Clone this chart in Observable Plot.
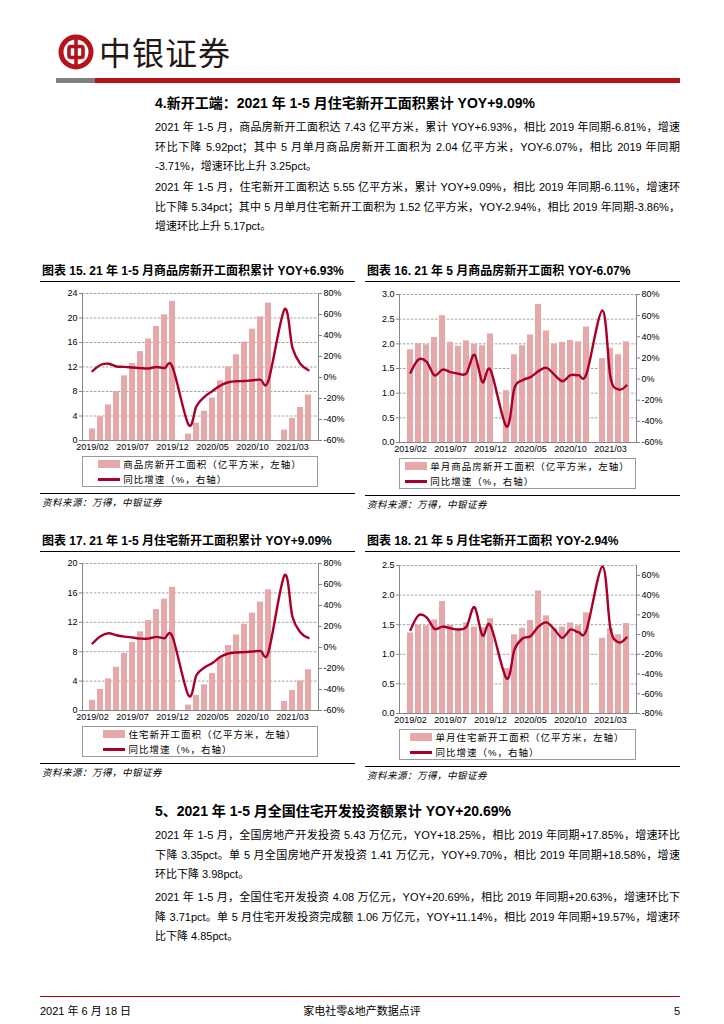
<!DOCTYPE html>
<html><head><meta charset="utf-8">
<script src="https://cdn.jsdelivr.net/npm/d3@7"></script>
<script src="https://cdn.jsdelivr.net/npm/@observablehq/plot@0.6"></script>
<style>
body{margin:0;background:#fff;}
#page{position:relative;width:724px;height:1024px;overflow:hidden;font-family:"Liberation Sans","Noto Sans CJK SC",sans-serif;color:#000;}
.abs{position:absolute;}
.h2{font-weight:bold;font-size:14px;white-space:nowrap;line-height:20px;}
.pl{left:155px;width:525px;font-size:11px;white-space:nowrap;line-height:20px;height:20px;text-align:justify;text-align-last:justify;}
.pl.last{text-align-last:left;}
.ctitle{font-weight:bold;font-size:12px;white-space:nowrap;line-height:18px;height:19px;border-bottom:1px solid #000;padding-left:2px;}
.legend{border:1px solid #9a9a9a;box-sizing:border-box;display:flex;justify-content:center;align-items:center;font-size:9.5px;letter-spacing:1px;}
.legend .inner{display:flex;flex-direction:column;gap:4px;}
.legend .row{display:flex;align-items:center;white-space:nowrap;line-height:11px;}
.sw{display:inline-block;width:22px;margin-right:3px;}
.sw.bar{height:8px;background:#E6A8A8;}
.sw.ln{height:3px;background:#A8002B;}
.src{font-size:9.5px;font-style:italic;white-space:nowrap;line-height:12px;letter-spacing:0.5px;}
</style>
</head><body>
<div id="page"></div>
<script>
// ---------------- data ----------------
const months = ["2019/02","2019/03","2019/04","2019/05","2019/06","2019/07","2019/08","2019/09","2019/10","2019/11","2019/12",
  "2020/01","2020/02","2020/03","2020/04","2020/05","2020/06","2020/07","2020/08","2020/09","2020/10","2020/11","2020/12",
  "2021/01","2021/02","2021/03","2021/04","2021/05"];
const tickMonths = ["2019/02","2019/07","2019/12","2020/05","2020/10","2021/03"];

// 图表15 商品房新开工面积累计（亿平方米）与同比（%）
const c15Area = [1.88,3.87,5.81,7.97,10.55,12.58,14.51,16.57,18.62,20.52,22.72,null,1.04,2.82,4.78,6.95,9.75,12.01,14.00,16.06,18.18,20.18,22.44,null,1.71,3.62,5.39,7.43];
const c15Yoy  = [6.0,11.9,13.1,10.5,10.1,9.5,8.9,8.6,10.0,9.0,10.0,null,-44.9,-27.2,-18.4,-12.8,-7.6,-4.5,-3.6,-3.4,-2.6,-2.0,-2.8,null,64.9,28.2,12.8,6.93];
// 图表16 单月商品房新开工面积
const c16Area = [1.88,2.00,1.98,2.13,2.57,2.03,1.95,2.06,1.99,1.96,2.20,null,1.05,1.78,1.96,2.18,2.80,2.26,1.99,2.03,2.07,2.04,2.34,null,1.70,1.91,1.78,2.04];
const c16Yoy  = [6.0,18.5,16.5,3.5,9.0,6.5,5.0,5.5,23.0,-3.0,8.5,null,-44.9,-8.3,-1.0,1.8,7.5,10.6,4.0,-2.0,3.7,3.7,5.0,null,64.9,1.8,-9.8,-6.07];
// 图表17 住宅新开工面积累计
const c17Area = [1.38,2.85,4.31,5.88,7.77,9.27,10.70,12.23,13.73,15.15,16.75,null,0.74,2.05,3.49,5.02,7.17,8.83,10.27,11.74,13.25,14.75,16.43,null,1.24,2.71,4.02,5.55];
const c17Yoy  = [3.8,10.7,13.6,11.7,10.4,9.5,8.5,8.5,10.1,8.8,10.1,null,-45.7,-26.2,-19.0,-14.8,-8.8,-5.7,-4.7,-4.4,-3.8,-3.2,-4.1,null,68.8,29.0,14.2,9.09];
// 图表18 单月住宅新开工面积
const c18Area = [1.36,1.49,1.48,1.58,1.89,1.49,1.43,1.53,1.46,1.45,1.60,null,0.76,1.33,1.44,1.57,2.07,1.65,1.44,1.46,1.53,1.48,1.70,null,1.27,1.43,1.33,1.52];
const c18Yoy  = [4.7,19.5,17.5,5.8,8.1,6.4,5.1,8.0,27.8,-1.0,9.2,null,-44.4,-15.0,-4.0,-1.7,8.1,12.3,5.1,-3.4,5.1,2.4,4.7,null,69.0,5.8,-7.8,-2.94];

const page = document.getElementById("page");
function el(tag, cls, style, html){const e=document.createElement(tag); if(cls) e.className=cls; if(style) Object.assign(e.style, style); if(html!=null) e.innerHTML=html; page.appendChild(e); return e;}

// ---------------- header ----------------
el("div","abs",{left:"58px",top:"34px",width:"36px",height:"36px"},
 `<svg width="36" height="36" viewBox="0 0 36 36"><circle cx="18" cy="18" r="15" fill="none" stroke="#B5121B" stroke-width="5"/>
  <rect x="11" y="12.5" width="14" height="11" rx="2" fill="none" stroke="#B5121B" stroke-width="3.6"/>
  <rect x="16.2" y="2" width="3.6" height="32" fill="#B5121B"/></svg>`);
el("div","abs",{left:"99px",top:"29px",fontSize:"32px",lineHeight:"44px",fontFamily:"'Noto Sans CJK SC',sans-serif",color:"#231815",letterSpacing:"1px"},"中银证券");
el("div","abs",{left:"56px",top:"78px",width:"39px",height:"5px",background:"#7f7f7f"});
el("div","abs",{left:"95px",top:"78px",width:"585px",height:"5px",background:"#B5121B"});

// ---------------- text ----------------
el("div","abs h2",{left:"155px",top:"93px"},"4.新开工端：2021 年 1-5 月住宅新开工面积累计 YOY+9.09%");
const lines1 = [
 [127,"2021 年 1-5 月，商品房新开工面积达 7.43 亿平方米，累计 YOY+6.93%，相比 2019 年同期-6.81%，增速",false],
 [146.5,"环比下降 5.92pct；其中 5 月单月商品房新开工面积为 2.04 亿平方米，YOY-6.07%，相比 2019 年同期",false],
 [166,"-3.71%，增速环比上升 3.25pct。",true],
 [187,"2021 年 1-5 月，住宅新开工面积达 5.55 亿平方米，累计 YOY+9.09%，相比 2019 年同期-6.11%，增速环",false],
 [206.5,"比下降 5.34pct；其中 5 月单月住宅新开工面积为 1.52 亿平方米，YOY-2.94%，相比 2019 年同期-3.86%，",false],
 [226,"增速环比上升 5.17pct。",true],
 [835,"2021 年 1-5 月，全国房地产开发投资 5.43 万亿元，YOY+18.25%，相比 2019 年同期+17.85%，增速环比",false],
 [854.5,"下降 3.35pct。单 5 月全国房地产开发投资 1.41 万亿元，YOY+9.70%，相比 2019 年同期+18.58%，增速",false],
 [874,"环比下降 3.98pct。",true],
 [897,"2021 年 1-5 月，全国住宅开发投资 4.08 万亿元，YOY+20.69%，相比 2019 年同期+20.63%，增速环比下",false],
 [916.5,"降 3.71pct。单 5 月住宅开发投资完成额 1.06 万亿元，YOY+11.14%，相比 2019 年同期+19.57%，增速环",false],
 [936,"比下降 4.85pct。",true]
];
for (const [y,t,last] of lines1) {
  el("div","abs pl"+(last?" last":""),{top:(y-10)+"px"},t);
}
el("div","abs h2",{left:"155px",top:"801px"},"5、2021 年 1-5 月全国住宅开发投资额累计 YOY+20.69%");

// footer
el("div","abs",{left:"40px",top:"996px",width:"640px",height:"1px",background:"#C00000"});
el("div","abs",{left:"40px",top:"1003px",fontSize:"11px",lineHeight:"16px"},"2021 年 6 月 18 日");
el("div","abs",{left:"0px",width:"724px",textAlign:"center",top:"1003px",fontSize:"11px",lineHeight:"16px"},"家电社零&地产数据点评");
el("div","abs",{left:"660px",width:"20px",textAlign:"right",top:"1003px",fontSize:"11px",lineHeight:"16px"},"5");

// ---------------- charts ----------------
function makeChart(c){
  const toL = v => (v - c.rmin)/(c.rmax - c.rmin)*c.lmax;
  const fromL = y => y/c.lmax*(c.rmax - c.rmin) + c.rmin;
  const rows = months.map((m,i)=>({m, a:c.area[i], r:c.yoy[i]}));
  const bars = rows.filter(d=>d.a!=null);
  const line = rows.filter(d=>d.r!=null).map(d=>({m:d.m, y:toL(d.r)}));
  const lticks = d3.range(0, c.lmax + 1e-9, c.lstep);
  const rticks = d3.range(c.rmin, c.rtickMax + 1e-9, c.rstep);
  const svgTop = c.blockTop + 24;
  const W = 315;
  const mT = c.plotTop - svgTop, H = c.plotBottom - svgTop + 15;
  const mL = c.plotLeft - c.blockLeft, mR = c.blockLeft + W - c.plotRight;
  const axisStroke = "#868686";
  const p = Plot.plot({
    width: W, height: H, marginTop: mT, marginBottom: 15, marginLeft: mL, marginRight: mR,
    style: {fontFamily:"Liberation Sans, Arial, sans-serif", fontSize:"9px", color:"#000", background:"transparent", overflow:"visible"},
    x: {type:"band", domain: months, padding: 0.3, axis: null, label: null},
    y: {domain: [0, c.lmax], axis: null, label: null},
    marks: [
      Plot.gridY(lticks, {stroke:"#8a8a8a", strokeOpacity:1, strokeWidth:0.8, strokeDasharray:"2.5,1.5"}),
      Plot.barY(bars, {x:"m", y:"a", fill:"#E6A8A8"}),
      Plot.line(line, {x:"m", y:"y", stroke:"#A8002B", strokeWidth:2.4, curve:"cardinal"}),
      Plot.frame({anchor:"left", stroke:axisStroke}),
      Plot.frame({anchor:"right", stroke:axisStroke}),
      Plot.ruleY([0], {stroke:axisStroke}),
      Plot.axisY(lticks, {anchor:"left", tickSize:3, tickPadding:2, stroke:axisStroke, tickFormat:c.lfmt, label:null}),
      Plot.axisY(rticks.map(toL), {anchor:"right", tickSize:3, tickPadding:2, stroke:axisStroke, tickFormat: d => Math.round(fromL(d)) + "%", label:null}),
      Plot.axisX(tickMonths, {anchor:"bottom", tickSize:0, tickPadding:3, label:null})
    ]
  });
  el("div","abs ctitle",{left:c.blockLeft+"px", top:c.blockTop+"px", width:(W-2)+"px"}, c.title);
  const holder = el("div","abs",{left:c.blockLeft+"px", top:svgTop+"px"});
  holder.appendChild(p);
  el("div","abs legend",{left:c.plotLeft+"px", top:(c.plotBottom+16)+"px", width:(c.plotRight-c.plotLeft)+"px", height:"31px"},
    `<div class="inner"><div class="row"><span class="sw bar"></span>${c.legend}</div><div class="row"><span class="sw ln"></span>同比增速（%，右轴）</div></div>`);
  el("div","abs",{left:c.blockLeft+"px", top:(c.plotBottom+53)+"px", width:W+"px", height:"1px", background:"#000"});
  el("div","abs src",{left:(c.blockLeft+2)+"px", top:(c.plotBottom+57)+"px"},"资料来源：万得，中银证券");
}

const fInt = d3.format("d"), f1 = d3.format(".1f");
makeChart({title:"图表 15. 21 年 1-5 月商品房新开工面积累计 YOY+6.93%", legend:"商品房新开工面积（亿平方米，左轴）",
  area:c15Area, yoy:c15Yoy, lmax:24, lstep:4, lfmt:fInt, rmin:-60, rmax:80, rtickMax:80, rstep:20,
  blockLeft:40, blockTop:262, plotLeft:82, plotRight:318, plotTop:293, plotBottom:440});
makeChart({title:"图表 16. 21 年 5 月商品房新开工面积 YOY-6.07%", legend:"单月商品房新开工面积（亿平方米，左轴）",
  area:c16Area, yoy:c16Yoy, lmax:3, lstep:0.5, lfmt:f1, rmin:-60, rmax:80, rtickMax:80, rstep:20,
  blockLeft:365, blockTop:262, plotLeft:399, plotRight:636, plotTop:294, plotBottom:442});
makeChart({title:"图表 17. 21 年 1-5 月住宅新开工面积累计 YOY+9.09%", legend:"住宅新开工面积（亿平方米，左轴）",
  area:c17Area, yoy:c17Yoy, lmax:20, lstep:4, lfmt:fInt, rmin:-60, rmax:80, rtickMax:80, rstep:20,
  blockLeft:40, blockTop:532, plotLeft:82, plotRight:318, plotTop:563, plotBottom:710});
makeChart({title:"图表 18. 21 年 5 月住宅新开工面积 YOY-2.94%", legend:"单月住宅新开工面积（亿平方米，左轴）",
  area:c18Area, yoy:c18Yoy, lmax:2.5, lstep:0.5, lfmt:f1, rmin:-80, rmax:70, rtickMax:60, rstep:20,
  blockLeft:365, blockTop:532, plotLeft:399, plotRight:636, plotTop:565, plotBottom:713});

document.querySelectorAll(".pl").forEach(d=>{
  let fs = 11;
  while (d.scrollWidth > d.clientWidth + 0.5 && fs > 8) { fs -= 0.2; d.style.fontSize = fs + "px"; }
});
</script>
</body></html>
